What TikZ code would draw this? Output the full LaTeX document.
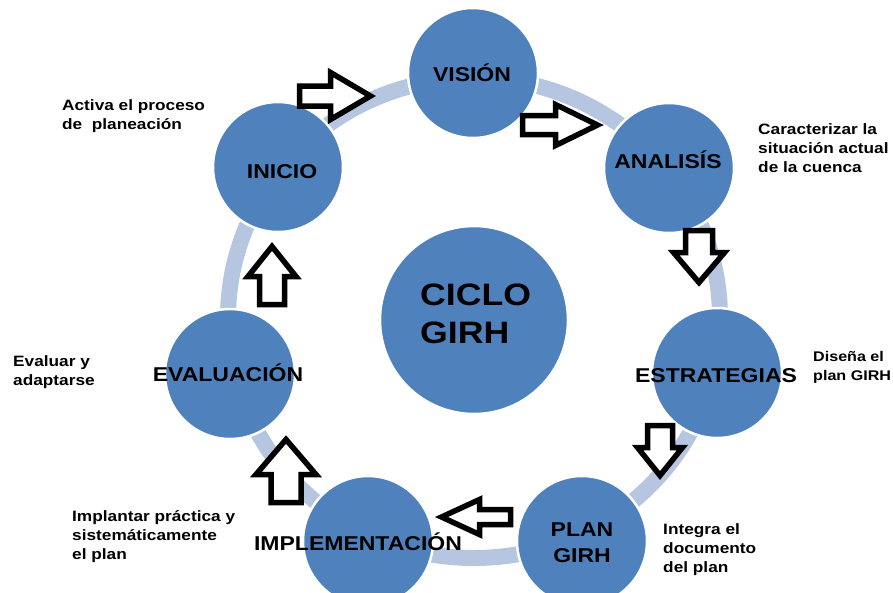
\documentclass[tikz,border=0pt]{standalone}
\usepackage{fontspec}
\setmainfont[FakeStretch=1.15]{Liberation Sans}

\definecolor{circblue}{RGB}{79,129,189}
\definecolor{ringblue}{RGB}{182,198,225}

\newcommand{\blockarrow}[6]{%
  \draw[line width=5.5pt,fill=white,shift={(#1)},rotate=#2]
    ({-#3/2},{-#4/2}) -- ({#3/2-#6},{-#4/2}) -- ({#3/2-#6},{-#5/2}) -- ({#3/2},0)
    -- ({#3/2-#6},{#5/2}) -- ({#3/2-#6},{#4/2}) -- ({-#3/2},{#4/2}) -- cycle;}

\begin{document}
\begin{tikzpicture}[x=1pt,y=-1pt,
  stage/.style={circle,fill=circblue,draw=white,line width=2.5pt,minimum size=130pt,inner sep=0pt},
  stagetext/.style={font=\bfseries\fontsize{20}{26}\selectfont,inner sep=0pt},
  note/.style={font=\bfseries\fontsize{15}{19}\selectfont,align=left,anchor=west,inner sep=0pt}]
\useasboundingbox (0,0) rectangle (893,592);
\draw[ringblue,line width=16pt] (474,318) ellipse [x radius=246,y radius=240];

\node[stage] (vision) at (473,73) {};
\node[stage] (analisis) at (669,168) {};
\node[stage] (estrategias) at (717,373) {};
\node[stage] (plan) at (582,541) {};
\node[stage] (implementacion) at (368,541) {};
\node[stage] (evaluacion) at (230,374) {};
\node[stage] (inicio) at (278,167) {};
\node[stage,minimum size=188pt] (ciclo) at (474,320) {};

\blockarrow{335,96}{0}{71}{20}{47}{40}
\blockarrow{560,125}{0}{75}{19}{41}{42}
\blockarrow{699,256.5}{-90}{52}{27}{51}{30}
\blockarrow{660,450.5}{-90}{50}{25}{45}{28}
\blockarrow{476,517}{180}{69}{15}{35}{38}
\blockarrow{286,471}{90}{63}{30}{60}{35}
\blockarrow{272,275.5}{90}{58}{25}{48}{30}

\node[stagetext] (vision-t) at (472,72.5) {VISIÓN};
\node[stagetext] (analisis-t) at (668,159.5) {ANALISÍS};
\node[stagetext] (estrategias-t) at (716,376) {ESTRATEGIAS};
\node[stagetext,align=center] (plan-t) at (582,543) {PLAN\\GIRH};
\node[stagetext] (implementacion-t) at (358,541.5) {IMPLEMENTACIÓN};
\node[stagetext] (evaluacion-t) at (228,372.5) {EVALUACIÓN};
\node[stagetext] (inicio-t) at (282,172) {INICIO};
\node[stagetext,font=\bfseries\fontsize{31}{38}\selectfont,align=left,anchor=west] (ciclo-t) at (420,314) {CICLO\\GIRH};

\node[note] (inicio-n) at (62,116) {Activa el proceso\\de~~planeación};
\node[note] (analisis-n) at (758,148) {Caracterizar la\\situación actual\\de la cuenca};
\node[note,font=\bfseries\fontsize{14}{19}\selectfont] (estrategias-n) at (813,367.5) {Diseña el\\plan GIRH};
\node[note] (plan-n) at (663,550) {Integra el\\documento\\del plan};
\node[note] (implementacion-n) at (72,537) {Implantar práctica y\\sistemáticamente\\el plan};
\node[note] (evaluacion-n) at (13,372.5) {Evaluar y\\adaptarse};
\end{tikzpicture}
\end{document}
